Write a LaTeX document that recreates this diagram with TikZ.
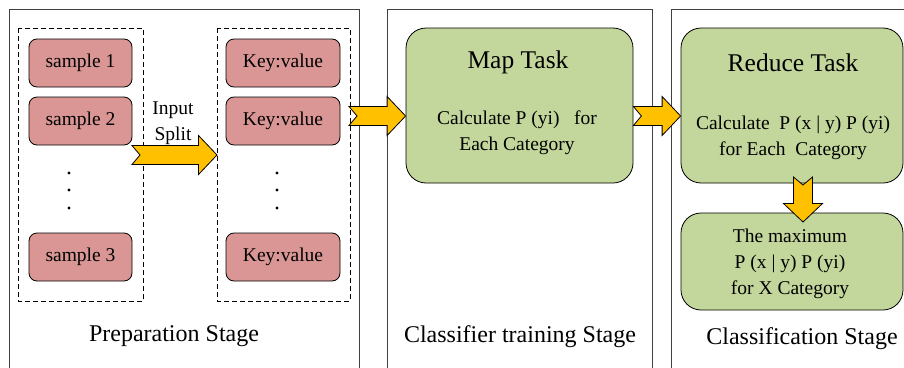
\documentclass[tikz,border=0pt]{standalone}
\usepackage{fontspec}
\setmainfont{Liberation Serif}
\usetikzlibrary{calc}

% fat block arrow with a notched tail, from #1 (tail) to #2 (tip)
\newcommand{\blockarrow}[2]{%
  \coordinate (ba-t) at (#1);
  \coordinate (ba-p) at (#2);
  \coordinate (ba-h) at ($(ba-p)!18.5pt!(ba-t)$);
  \coordinate (ba-n) at ($(ba-t)!8pt!(ba-p)$);
  \filldraw[fatarrow] ($(ba-t)!9.5pt!90:(ba-p)$) -- ($(ba-h)!9.5pt!90:(ba-p)$)
    -- ($(ba-h)!19.5pt!90:(ba-p)$) -- (ba-p) -- ($(ba-h)!19.5pt!-90:(ba-p)$)
    -- ($(ba-h)!9.5pt!-90:(ba-p)$) -- ($(ba-t)!9.5pt!-90:(ba-p)$) -- (ba-n) -- cycle;
}

\tikzset{
  stagebox/.style={draw=black!75, line width=0.8pt},
  groupbox/.style={draw, line width=0.7pt, dash pattern=on 5pt off 3pt},
  itembox/.style={draw, line width=0.8pt, rounded corners=8pt, fill=itemColor, minimum height=48pt},
  taskbox/.style={draw, line width=0.8pt, rounded corners=20pt, fill=taskColor},
  titletext/.style={font=\fontsize{25.5}{30}\selectfont},
  stagetext/.style={font=\fontsize{24}{28}\selectfont},
  fatarrow/.style={draw=black, line width=0.8pt, fill=arrowColor, line join=miter},
}

\begin{document}
\begin{tikzpicture}[x=1pt, y=-1pt, font=\fontsize{19.5}{26}\selectfont]

    % Define colors
    \definecolor{itemColor}{HTML}{D99694}
    \definecolor{taskColor}{HTML}{C3D69B}
    \definecolor{arrowColor}{HTML}{FFC000}

    \useasboundingbox (0,0) rectangle (904,367);
    \clip (0,0) rectangle (904,367);

    % 1. Stage frames (open at the bottom)
    \draw[stagebox] (9.5,380) -- (9.5,9) -- (359,9) -- (359,380);
    \draw[stagebox] (387,380) -- (387,9) -- (652,9) -- (652,380);
    \draw[stagebox] (671,380) -- (671,9) -- (920,9);

    % 2. Preparation stage
    \draw[groupbox] (18,28) rectangle (143,301);
    \draw[groupbox] (217,28) rectangle (350,301);

    \node[itembox, minimum width=103pt] (Sample1) at (80.5,63) {sample 1};
    \node[itembox, minimum width=103pt] (Sample2) at (80.5,121) {sample 2};
    \node[itembox, minimum width=103pt] (Sample3) at (80.5,257) {sample 3};

    \node[itembox, minimum width=114pt] (Key1) at (283,63) {Key:value};
    \node[itembox, minimum width=114pt] (Key2) at (283,121) {Key:value};
    \node[itembox, minimum width=114pt] (Key3) at (283,257) {Key:value};

    \foreach \y in {173,190,208} {
        \fill (69,\y) circle (1.7pt);
        \fill (277,\y) circle (1.7pt);
    }

    \coordinate (SplitTail) at (132,155);
    \coordinate (SplitTip) at (217,155);
    \blockarrow{SplitTail}{SplitTip}
    \node[align=center] (SplitLabel) at (173,123.5) {Input\\Split};

    \node[stagetext] (PrepLabel) at (174,336.5) {Preparation Stage};

    % 3. Classifier training stage
    \node[taskbox, minimum width=227pt, minimum height=155pt] (MapTask) at (519.5,105.5) {};
    \node[titletext] (MapTitle) at (518,62.5) {Map Task};
    \node[align=center] (MapText) at (517,132.5) {Calculate P (yi)~~ for\\Each Category};

    \coordinate (ToMap) at (349,116);
    \blockarrow{ToMap}{MapTask.west |- ToMap}

    \node[stagetext] (TrainLabel) at (520,336.5) {Classifier training Stage};

    % 4. Classification stage
    \node[taskbox, minimum width=222pt, minimum height=155pt] (ReduceTask) at (792,105.5) {};
    \node[titletext] (ReduceTitle) at (793,62.5) {Reduce Task};
    \node[align=center] (ReduceText) at (793,138) {Calculate~ P (x | y) P (yi)\\for Each~ Category};

    \node[taskbox, minimum width=222pt, minimum height=97pt] (MaxBox) at (792,261.5) {};
    \node[align=center] (MaxText) at (790,264) {The maximum\\P (x | y) P (yi)\\for X Category};

    \coordinate (FromMap) at (MapTask.east |- ToMap);
    \blockarrow{FromMap}{ReduceTask.west |- ToMap}

    \coordinate (DownTail) at (803,177);
    \coordinate (DownTip) at (803,222);
    \blockarrow{DownTail}{DownTip}

    \node[stagetext] (ClassLabel) at (802,338.5) {Classification Stage};

\end{tikzpicture}
\end{document}
